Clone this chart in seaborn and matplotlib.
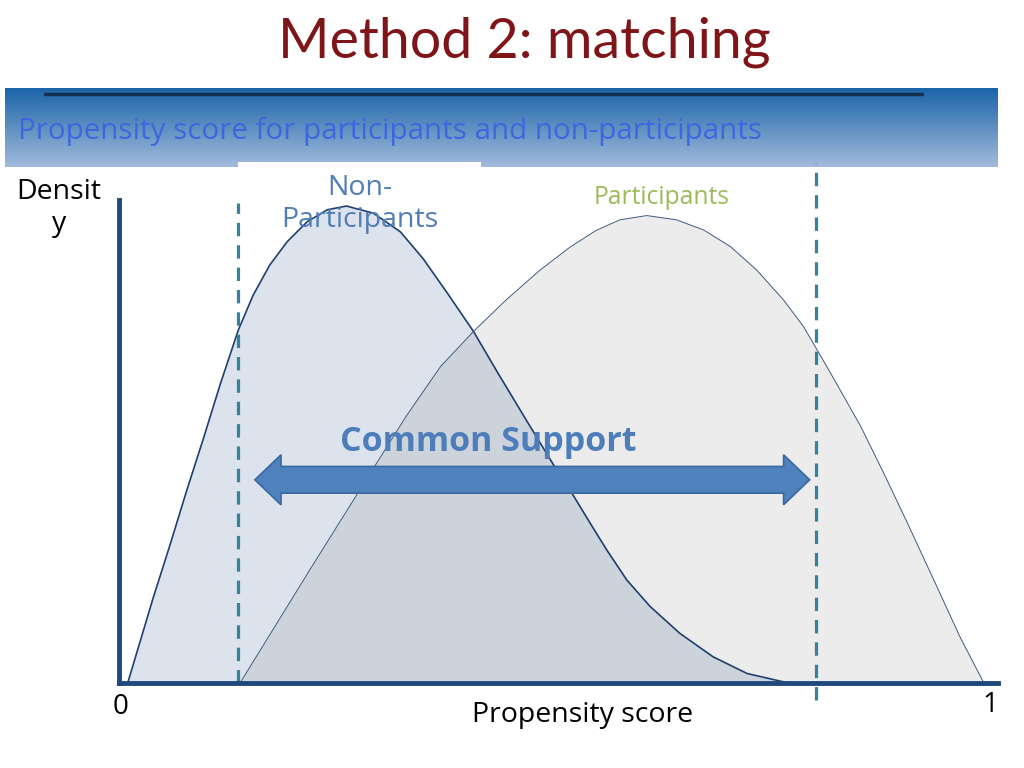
import numpy as np
import matplotlib
matplotlib.use("Agg")
import matplotlib.pyplot as plt
import seaborn as sns
from matplotlib.patches import Polygon, Rectangle

# curves (x = propensity score, y = density, arbitrary units)
nonpart_x = [0.010, 0.039, 0.059, 0.078, 0.097, 0.116, 0.137, 0.154, 0.173, 0.193,
             0.216, 0.239, 0.261, 0.292, 0.323, 0.349, 0.376, 0.407, 0.434, 0.464,
             0.499, 0.520, 0.541, 0.560, 0.583, 0.610, 0.644, 0.682, 0.721, 0.759, 0.770]
nonpart_y = [0.000, 0.177, 0.292, 0.405, 0.513, 0.625, 0.740, 0.813, 0.876, 0.925,
             0.967, 0.992, 1.000, 0.985, 0.946, 0.890, 0.820, 0.737, 0.653, 0.562,
             0.457, 0.398, 0.335, 0.279, 0.216, 0.160, 0.104, 0.055, 0.020, 0.004, 0.000]

part_x = [0.139, 0.219, 0.292, 0.330, 0.369, 0.407, 0.445, 0.483, 0.518, 0.548,
          0.575, 0.606, 0.640, 0.671, 0.702, 0.732, 0.763, 0.786, 0.801, 0.820,
          0.851, 0.878, 0.904, 0.935, 0.966, 0.993]
part_y = [0.000, 0.237, 0.450, 0.560, 0.663, 0.737, 0.804, 0.865, 0.914, 0.949,
          0.971, 0.980, 0.971, 0.950, 0.915, 0.866, 0.803, 0.747, 0.700, 0.640,
          0.540, 0.440, 0.340, 0.218, 0.095, 0.000]

# common support bounds and arrow span
support_lo = 0.137
support_hi = 0.800
arrow_from = 0.156
arrow_to = 0.793
arrow_y = 0.426

sns.set_theme(style="white")
plt.rcParams['font.family'] = ['Open Sans', 'DejaVu Sans']

fig = plt.figure(figsize=(10.24, 7.68), dpi=100)
W, H = 1024, 768

def fx(px):
    return px / W

def fy(py):
    return 1 - py / H

# title
fig.text(fx(524), fy(42), "Method 2: matching", ha="center", va="center",
         fontsize=40, color="#7F1518", family=["Lato", "DejaVu Sans"])

# blue banner with gradient
bax = fig.add_axes([fx(5), fy(167), fx(993), 79 / H])
grad = np.linspace(0, 1, 100).reshape(-1, 1)
top = np.array([0x1B, 0x64, 0xA8]) / 255
bot = np.array([0xA2, 0xBB, 0xDB]) / 255
img = top + (bot - top) * grad[:, :, None]
bax.imshow(img, aspect="auto", extent=[0, 1, 0, 1])
bax.plot([40 / 993, 917 / 993], [0.93, 0.93], color="#15304F", lw=2.5)
bax.set_xlim(0, 1)
bax.set_ylim(0, 1)
bax.axis("off")
fig.text(fx(18), fy(131), "Propensity score for participants and non-participants",
         ha="left", va="center", fontsize=21.3, color="#3F66E0")

fig.patches.append(Rectangle((fx(238), fy(172)), fx(243), 10 / H, transform=fig.transFigure,
                             facecolor="white", edgecolor="none", zorder=2))

# main plot
ax = fig.add_axes([fx(119), fy(683), fx(879), 483 / H])
ax.fill_between(nonpart_x, nonpart_y, color="#DCE3EC", zorder=1, lw=0)
ax.fill_between(part_x, part_y, color=(0.345, 0.345, 0.345), alpha=0.114, zorder=2, lw=0)
sns.lineplot(x=nonpart_x, y=nonpart_y, ax=ax, color="#1F3F6F", lw=1.2, zorder=3)
sns.lineplot(x=part_x, y=part_y, ax=ax, color="#3F5A80", lw=0.7, zorder=3)

ax.plot([support_lo, support_lo], [0, 1.006], color="#31849B", lw=2.3,
        dashes=(4.2, 2.8), zorder=4, clip_on=False)
ax.plot([support_hi, support_hi], [-0.036, 1.090], color="#31849B", lw=2.3,
        dashes=(4.2, 2.8), zorder=4, clip_on=False)

# double arrow
shaft = 0.028
head = 0.0524
head_len = 0.030
pts = [(arrow_from, arrow_y),
       (arrow_from + head_len, arrow_y + head),
       (arrow_from + head_len, arrow_y + shaft),
       (arrow_to - head_len, arrow_y + shaft),
       (arrow_to - head_len, arrow_y + head),
       (arrow_to, arrow_y),
       (arrow_to - head_len, arrow_y - head),
       (arrow_to - head_len, arrow_y - shaft),
       (arrow_from + head_len, arrow_y - shaft),
       (arrow_from + head_len, arrow_y - head)]
ax.add_patch(Polygon(pts, closed=True, facecolor="#4F81BD", edgecolor="#3A68A2",
                     lw=1.2, zorder=5))

ax.set_xlim(0, 1.0092)
ax.set_ylim(0, 1.0126)
ax.set_xticks([])
ax.set_yticks([])
for side in ["top", "right"]:
    ax.spines[side].set_visible(False)
for side in ["left", "bottom"]:
    ax.spines[side].set_color("#1F497D")
    ax.spines[side].set_linewidth(3.5)
    ax.spines[side].set_zorder(6)
ax.patch.set_alpha(0)

# labels
fig.text(fx(59), fy(208), "Densit\ny", ha="center", va="center", fontsize=20.5,
         color="black", linespacing=1.22)
fig.text(fx(121), fy(707), "0", ha="center", va="center", fontsize=20, color="black")
fig.text(fx(990), fy(705), "1", ha="center", va="center", fontsize=20, color="black")
fig.text(fx(583), fy(715), "Propensity score", ha="center", va="center", fontsize=20.5,
         color="black")
fig.text(fx(360), fy(204), "Non-\nParticipants", ha="center", va="center", fontsize=20.5,
         color="#4F7DB5", linespacing=1.2, zorder=7)
fig.text(fx(662), fy(197), "Participants", ha="center", va="center", fontsize=17.7,
         color="#9BBB59")
fig.text(fx(488), fy(442), "Common Support", ha="center", va="center", fontsize=24.5,
         fontweight="bold", color="#4D7EBB")

fig.savefig("out.png", dpi=100)
